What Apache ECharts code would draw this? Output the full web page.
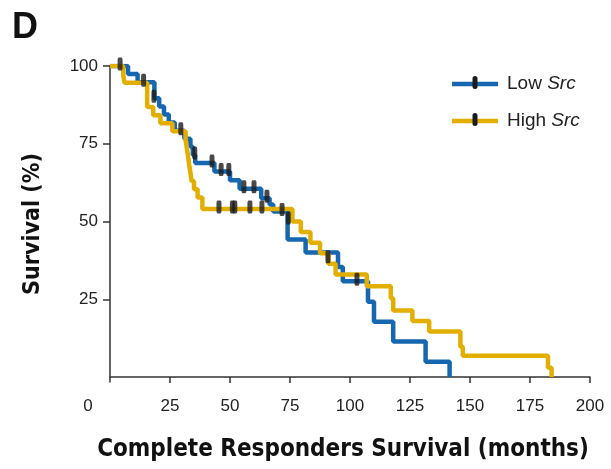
<!DOCTYPE html>
<html>
<head>
<meta charset="utf-8">
<script src="https://cdn.jsdelivr.net/npm/echarts@6/dist/echarts.min.js"></script>
<style>html,body{margin:0;padding:0;background:#fff;}#c{width:611px;height:469px;}</style>
</head>
<body>
<div id="c"></div>
<script>
// ---- data ----
const xTicks = [25, 50, 75, 100, 125, 150, 175, 200];
const yTicks = [25, 50, 75, 100];

const lowT = [0, 7.5, 11.5, 18.5, 20.5, 22.5, 24.5, 27, 31, 33.5, 34.5, 35.5, 43.5, 50, 54, 63, 66.5, 68, 74, 81.5, 95, 97, 107.5, 110, 118, 131.5, 141.5];
const lowS = [100, 97.4, 94.8, 89.6, 87.0, 84.4, 81.8, 79.2, 76.6, 74.0, 71.4, 68.8, 66.1, 63.3, 60.5, 57.5, 55.5, 53.2, 44.2, 40.0, 35.4, 30.8, 24.2, 17.8, 11.4, 4.9, 0];

const highT = [0, 5.5, 6, 15.5, 18, 21, 26, 31.5, 32, 32.5, 33, 33.5, 34, 35, 36.5, 38.5, 76, 79.5, 83.5, 87.5, 91, 94, 107, 117, 118, 126, 133, 146, 147, 182.5, 184];
const highS = [100, 97.3, 94.6, 86.8, 84.2, 81.6, 79.0, 76.3, 73.6, 71.0, 68.3, 65.7, 63.0, 60.4, 57.7, 54.0, 50.0, 46.6, 43.2, 39.8, 36.4, 33.0, 29.2, 25.3, 21.4, 18.0, 14.6, 9.7, 6.8, 3.0, 0];

const lowCensT = [4.2, 14, 18.3, 29.5, 35.3, 42.5, 46.3, 49.5, 55.8, 60, 65.4, 71.7, 74.3, 102.9];
const lowCensS = [100, 94.8, 89.6, 79.2, 71.4, 68.8, 66.1, 66.1, 60.5, 60.5, 57.5, 53.2, 50.5, 30.8];
const highCensT = [45.4, 51, 52, 58.3, 63.3, 90.8];
const highCensS = [54, 54, 54, 54, 54, 38];

const seriesNames = ['Low Src', 'High Src'];
const colors = ['#1767b0', '#e2ae00'];

const zip = (a, b) => a.map((v, i) => [v, b[i]]);

const chart = echarts.init(document.getElementById('c'), null, {renderer: 'canvas'});
const censorStyle = {
  type: 'scatter',
  symbol: 'roundRect',
  symbolSize: [5, 13],
  symbolOffset: [0, -2],
  itemStyle: {color: '#1b1b1b'},
  z: 5,
  silent: true
};
const font = 'Liberation Sans, Arial, Helvetica, sans-serif';
const condFont = 'Liberation Sans Narrow, DejaVu Sans Condensed, Liberation Sans, Arial, sans-serif';

chart.setOption({
  animation: false,
  backgroundColor: '#fff',
  grid: {left: 110, right: 21, top: 66, bottom: 87, containLabel: false},
  xAxis: {
    type: 'value', min: 0, max: 200, interval: 25,
    name: 'Complete Responders Survival (months)',
    nameLocation: 'middle', nameGap: 56,
    nameTextStyle: {fontFamily: condFont, fontWeight: 'bold', fontSize: 24, color: '#111', padding: [0, 14, 0, 0]},
    axisLine: {show: true, lineStyle: {color: '#333', width: 1.5}},
    axisTick: {show: true, customValues: xTicks, length: 6, lineStyle: {color: '#333', width: 1.5}},
    axisLabel: {customValues: xTicks, margin: 16, fontFamily: font, fontSize: 17, color: '#222'},
    splitLine: {show: false}
  },
  yAxis: {
    type: 'value', min: -1.6, max: 100,
    name: 'Survival (%)',
    nameLocation: 'middle', nameGap: 65,
    nameTextStyle: {fontFamily: condFont, fontWeight: 'bold', fontSize: 23, color: '#111'},
    axisLine: {show: true, lineStyle: {color: '#333', width: 1.5}},
    axisTick: {show: true, customValues: yTicks, length: 7, lineStyle: {color: '#333', width: 1.5}},
    axisLabel: {customValues: yTicks, margin: 12, fontFamily: font, fontSize: 17, color: '#222'},
    splitLine: {show: false}
  },
  legend: {
    orient: 'vertical', left: 452, top: 73, padding: 0,
    data: seriesNames,
    itemWidth: 46, itemHeight: 4.5, itemGap: 15,
    icon: 'rect',
    textStyle: {
      fontFamily: font, fontSize: 19, color: '#222', lineHeight: 22,
      rich: {
        n: {fontFamily: font, fontSize: 19, color: '#222', padding: [0, 0, 0, 4]},
        i: {fontFamily: font, fontSize: 19, color: '#222', fontStyle: 'italic'}
      }
    },
    formatter: function (name) { const p = name.split(' '); return '{n|' + p[0] + ' }{i|' + p[1] + '}'; }
  },
  graphic: [
    {type: 'text', left: 12, top: 10, style: {text: 'D', font: 'bold 36px ' + font, fill: '#111'}},
    {type: 'text', x: 88, y: 406, style: {text: '0', font: '17px ' + font, fill: '#222', align: 'center', verticalAlign: 'middle'}},
    {type: 'rect', shape: {x: 472.5, y: 76, width: 5, height: 13, r: 2.5}, style: {fill: '#1b1b1b'}, z: 100},
    {type: 'rect', shape: {x: 472.5, y: 113, width: 5, height: 13, r: 2.5}, style: {fill: '#1b1b1b'}, z: 100}
  ],
  series: [
    {name: seriesNames[0], type: 'line', step: 'end', data: zip(lowT, lowS), showSymbol: false, symbol: 'none',
     lineStyle: {color: colors[0], width: 4.5}, itemStyle: {color: colors[0]}, z: 2},
    {name: seriesNames[1], type: 'line', step: 'end', data: zip(highT, highS), showSymbol: false, symbol: 'none',
     lineStyle: {color: colors[1], width: 4.5}, itemStyle: {color: colors[1]}, z: 3},
    Object.assign({name: 'Low Src censored', data: zip(lowCensT, lowCensS)}, censorStyle),
    Object.assign({name: 'High Src censored', data: zip(highCensT, highCensS)}, censorStyle)
  ]
});
</script>
</body>
</html>
